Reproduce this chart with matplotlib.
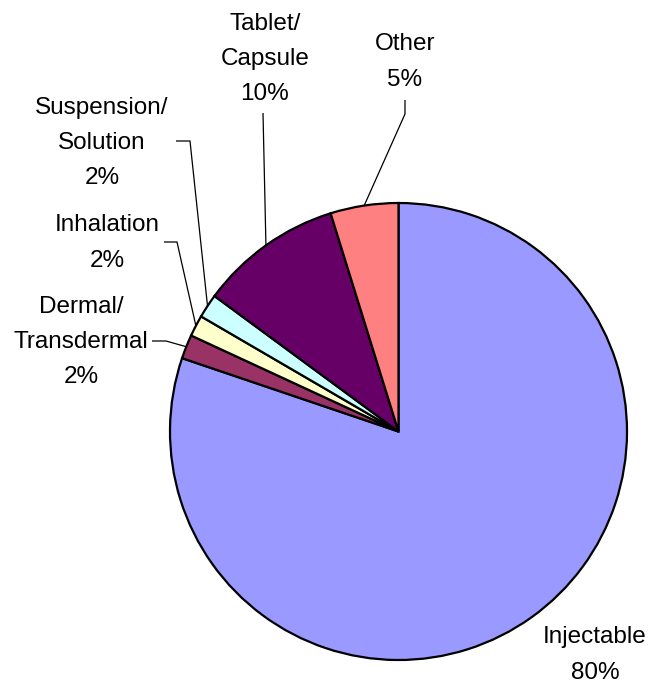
import matplotlib
matplotlib.use('Agg')
import matplotlib.pyplot as plt
import numpy as np

categories = ["Injectable", "Dermal/\nTransdermal", "Inhalation",
              "Suspension/\nSolution", "Tablet/\nCapsule", "Other"]
shares = [80.2, 1.7, 1.5, 1.7, 10.1, 4.8]
colors = ["#9999FF", "#993366", "#FFFFCC", "#CCFFFF", "#660066", "#FF8080"]

W, H = 652, 685
fig = plt.figure(figsize=(W / 100, H / 100), dpi=100)
ax = fig.add_axes([0, 0, 1, 1])
cx, cy, R = 398.5, H - 431.5, 228.5
wedges, _ = ax.pie(shares, colors=colors, startangle=90, counterclock=False,
                   center=(cx, cy), radius=R, frame=False,
                   wedgeprops=dict(edgecolor='black', linewidth=1.6))
ax.set_xlim(0, W)
ax.set_ylim(0, H)
ax.set_aspect('equal')
ax.axis('off')

# label layout (pixel coords measured from top) and leader knee points
label_pos = [(595, 655), (81, 342), (107, 243), (102, 143), (265, 59), (405, 62)]
leaders = [None,
           [(152, 341), (166, 341)],
           [(164, 242), (177, 242)],
           [(176, 141), (190, 141)],
           [(263, 113)],
           [(405, 100), (405, 114)]]

for w, cat, v, (lx, ly), ld in zip(wedges, categories, shares, label_pos, leaders):
    ax.text(lx, H - ly, f"{cat}\n{round(v)}%", ha='center', va='center',
            multialignment='center', fontsize=17.5, family='Liberation Sans',
            linespacing=1.78)
    if ld is not None:
        th = np.deg2rad((w.theta1 + w.theta2) / 2)
        ex, ey = cx + R * np.cos(th), cy + R * np.sin(th)
        xs = [p[0] for p in ld] + [ex]
        ys = [H - p[1] for p in ld] + [ey]
        ax.plot(xs, ys, color='black', lw=0.9, solid_capstyle='butt')

fig.savefig('out.png', dpi=100)
